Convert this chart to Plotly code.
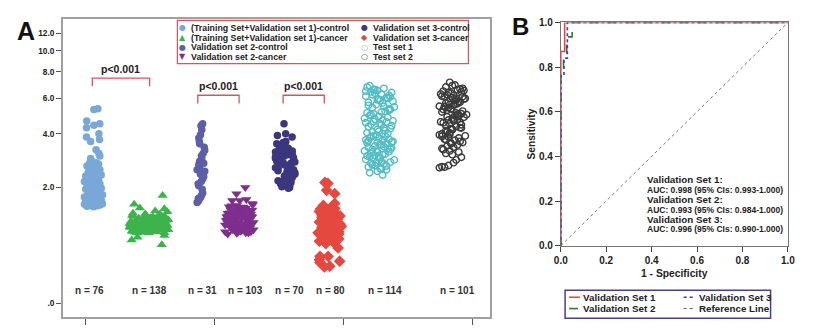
import numpy as np
import plotly.graph_objects as go

W, H = 829, 331

# ---------------- Panel A data ----------------
group_names = ["(Training Set+Validation set 1)-control", "(Training Set+Validation set 1)-cancer",
               "Validation set 2-control", "Validation set 2-cancer",
               "Validation set 3-control", "Validation set 3-cancer",
               "Test set 1", "Test set 2"]
group_n = [76, 138, 31, 103, 70, 80, 114, 101]
n_label_x = [1.030, 1.495, 1.906, 2.241, 2.577, 2.896, 3.315, 3.879]

tv1_control_y = [5.35, 5.30, 4.65, 4.30, 4.42, 4.50, 3.85, 3.65, 4.00, 3.73, 3.15, 3.05, 2.95, 3.30,
                 2.85, 2.80, 2.78, 2.75, 2.70, 2.68, 2.62, 2.60, 2.55, 2.52,
                 2.48, 2.45, 2.42, 2.38, 2.35, 2.30, 2.28, 2.25, 2.20, 2.18,
                 2.15, 2.10, 2.08, 2.05, 2.02, 2.00, 1.98, 1.95, 1.92, 1.90,
                 1.88, 1.85, 1.83, 1.80, 1.78, 1.76, 1.74, 1.72, 1.70, 1.69,
                 1.68, 1.66, 1.65, 1.64, 1.63, 1.62, 1.61, 1.60, 1.59, 1.58,
                 1.57, 1.56, 1.55, 1.54, 1.53, 1.52, 1.51, 1.50, 1.62, 1.70,
                 1.58, 1.66]
tv1_control_x = [1.094, 1.063, 1.008, 1.006, 1.063, 1.109, 1.006, 1.038, 1.102, 1.107, 1.102, 1.109, 1.038, 1.080,
                 1.05, 1.08, 1.03, 1.10, 1.06, 1.01, 1.09, 1.04, 1.11, 1.07,
                 1.02, 1.09, 1.05, 1.12, 1.00, 1.08, 1.03, 1.06, 1.10, 0.99,
                 1.04, 1.11, 1.07, 1.01, 1.09, 1.05, 1.12, 1.00, 1.03, 1.08,
                 1.06, 1.10, 1.02, 1.13, 1.04, 1.07, 0.99, 1.11, 1.05, 1.01,
                 1.09, 1.03, 1.12, 1.06, 1.00, 1.08, 1.04, 1.10, 1.02, 1.07,
                 1.13, 0.99, 1.05, 1.11, 1.03, 1.09, 1.01, 1.06, 1.12, 1.04,
                 1.08, 1.00]

tv1_cancer_y = [1.78, 1.56, 1.47, 1.45, 1.40, 0.82, 0.87, 0.90, 0.74, 1.38, 1.35,
                1.02, 1.15, 1.08, 1.22, 0.98, 1.12, 1.28, 1.05, 1.18, 0.96,
                1.10, 1.25, 1.01, 1.14, 1.07, 1.20, 0.99, 1.11, 1.30, 1.04,
                1.17, 0.97, 1.09, 1.23, 1.03, 1.13, 1.27, 1.06, 1.19, 0.95,
                1.12, 1.24, 1.00, 1.16, 1.08, 1.21, 0.98, 1.10, 1.32, 1.05,
                1.14, 0.96, 1.07, 1.26, 1.02, 1.18, 1.11, 1.29, 1.04, 1.20,
                0.99, 1.13, 1.09, 1.22, 1.01, 1.15, 1.06, 1.24, 0.97, 1.12,
                1.18, 1.03, 1.27, 1.08, 1.16, 0.95, 1.11, 1.21, 1.05, 1.14,
                1.00, 1.25, 1.09, 1.17, 1.02, 1.31, 1.07, 1.13, 0.98, 1.19,
                1.10, 1.23, 1.04, 1.15, 0.96, 1.12, 1.28, 1.06, 1.20, 1.01,
                1.14, 1.08, 1.26, 0.99, 1.17, 1.05, 1.22, 1.11, 0.97, 1.16,
                1.03, 1.19, 1.09, 1.24, 1.00, 1.13, 1.30, 1.07, 1.18, 0.95,
                1.12, 1.21, 1.04, 1.15, 1.08, 1.27, 0.98, 1.10, 1.20, 1.06,
                1.14, 1.02, 1.23, 1.09, 1.16, 1.33, 1.01]
tv1_cancer_x = [1.596, 1.375, 1.419, 1.609, 1.538, 1.356, 1.401, 1.609, 1.589, 1.632, 1.366,
                1.42, 1.55, 1.37, 1.61, 1.48, 1.35, 1.58, 1.45, 1.52, 1.40,
                1.63, 1.50, 1.38, 1.57, 1.44, 1.53, 1.36, 1.60, 1.47, 1.41,
                1.54, 1.39, 1.62, 1.46, 1.51, 1.34, 1.59, 1.43, 1.56, 1.49,
                1.37, 1.60, 1.45, 1.52, 1.40, 1.64, 1.48, 1.35, 1.57, 1.42,
                1.55, 1.38, 1.50, 1.61, 1.44, 1.53, 1.36, 1.58, 1.47, 1.62,
                1.41, 1.54, 1.39, 1.49, 1.63, 1.46, 1.34, 1.56, 1.43, 1.51,
                1.59, 1.37, 1.52, 1.45, 1.60, 1.40, 1.55, 1.48, 1.35, 1.57,
                1.44, 1.62, 1.38, 1.53, 1.47, 1.58, 1.41, 1.50, 1.36, 1.61,
                1.46, 1.54, 1.39, 1.59, 1.43, 1.52, 1.37, 1.56, 1.49, 1.64,
                1.40, 1.57, 1.45, 1.51, 1.35, 1.60, 1.48, 1.42, 1.55, 1.38,
                1.53, 1.46, 1.63, 1.41, 1.58, 1.50, 1.36, 1.54, 1.44, 1.61,
                1.39, 1.56, 1.47, 1.52, 1.42, 1.59, 1.37, 1.55, 1.49, 1.45,
                1.62, 1.43, 1.51, 1.38, 1.57, 1.46, 1.53]

v2_control_y = [4.50, 4.40, 3.95, 3.80, 3.55, 3.28, 3.15, 3.05, 2.85, 2.73, 2.78, 2.55, 2.50, 2.40,
                2.33, 2.25, 2.10, 2.05, 1.85, 1.78, 1.73, 1.65, 1.60,
                4.20, 3.65, 3.40, 2.95, 2.62, 2.18, 1.95, 1.70]
v2_control_x = [1.906, 1.893, 1.889, 1.876, 1.883, 1.922, 1.909, 1.896, 1.883, 1.876, 1.914, 1.863, 1.922, 1.889,
                1.914, 1.906, 1.871, 1.876, 1.906, 1.896, 1.889, 1.876, 1.863,
                1.899, 1.880, 1.918, 1.899, 1.883, 1.895, 1.902, 1.872]

v2_cancer_y = [2.00, 1.83, 1.65, 1.65, 1.68, 1.58, 1.45, 1.55,
               1.20, 1.05, 1.35, 0.98, 1.28, 1.12, 1.45, 1.02, 1.18, 1.38,
               1.08, 1.25, 0.95, 1.32, 1.15, 1.50, 1.00, 1.22, 1.10, 1.40,
               1.30, 0.97, 1.17, 1.42, 1.06, 1.26, 1.13, 1.48, 1.03, 1.21,
               1.36, 1.09, 0.94, 1.27, 1.16, 1.44, 1.01, 1.33, 1.11, 1.24,
               0.99, 1.39, 1.14, 1.52, 1.07, 1.29, 1.19, 0.96, 1.34, 1.04,
               1.23, 1.46, 1.10, 1.31, 1.00, 1.18, 1.41, 1.06, 1.27, 1.15,
               0.93, 1.37, 1.12, 1.25, 1.02, 1.47, 1.20, 1.08, 1.33, 0.97,
               1.16, 1.43, 1.05, 1.28, 1.13, 1.53, 1.01, 1.22, 1.38, 1.09,
               1.30, 0.95, 1.19, 1.44, 1.07, 1.26, 1.14, 1.35, 1.03, 1.21,
               1.11, 1.40, 0.98, 1.24, 1.49]
v2_cancer_x = [2.236, 2.168, 2.135, 2.193, 2.244, 2.289, 2.236, 2.295,
               2.15, 2.25, 2.10, 2.20, 2.28, 2.13, 2.18, 2.23, 2.09, 2.27,
               2.17, 2.12, 2.24, 2.19, 2.30, 2.11, 2.21, 2.16, 2.26, 2.14,
               2.22, 2.08, 2.18, 2.29, 2.13, 2.25, 2.10, 2.20, 2.27, 2.15,
               2.12, 2.23, 2.17, 2.09, 2.26, 2.19, 2.14, 2.28, 2.11, 2.21,
               2.24, 2.16, 2.29, 2.13, 2.20, 2.10, 2.25, 2.18, 2.12, 2.27,
               2.14, 2.22, 2.08, 2.19, 2.26, 2.11, 2.23, 2.17, 2.29, 2.15,
               2.10, 2.21, 2.16, 2.27, 2.13, 2.24, 2.09, 2.20, 2.14, 2.28,
               2.18, 2.12, 2.25, 2.15, 2.22, 2.17, 2.30, 2.11, 2.23, 2.19,
               2.13, 2.26, 2.09, 2.21, 2.16, 2.28, 2.12, 2.24, 2.18, 2.10,
               2.20, 2.15, 2.27, 2.14, 2.22]

v3_control_y = [4.50, 3.92, 4.00, 3.85,
                3.60, 2.20, 3.10, 2.55, 3.40, 2.05, 2.85, 3.25, 2.35, 3.00,
                2.70, 3.50, 2.15, 2.95, 3.30, 2.45, 3.15, 2.00, 2.80, 3.55,
                2.30, 3.05, 2.60, 3.35, 2.10, 2.90, 3.20, 2.50, 3.45, 2.25,
                2.75, 3.65, 2.40, 3.00, 2.65, 3.28, 1.98, 2.88, 3.12, 2.52,
                3.38, 2.18, 2.78, 3.48, 2.32, 2.98, 2.62, 3.22, 2.08, 2.92,
                3.58, 2.42, 3.08, 2.68, 2.02, 3.18, 2.58, 2.38, 2.82, 3.32,
                2.12, 2.72, 3.42, 2.48, 2.26, 3.02]
v3_control_x = [2.536, 2.485, 2.549, 2.599,
                2.53, 2.49, 2.58, 2.61, 2.51, 2.56, 2.48, 2.60, 2.54, 2.50,
                2.57, 2.52, 2.59, 2.47, 2.55, 2.62, 2.50, 2.58, 2.53, 2.48,
                2.60, 2.54, 2.49, 2.57, 2.51, 2.61, 2.47, 2.56, 2.52, 2.59,
                2.50, 2.55, 2.62, 2.48, 2.58, 2.53, 2.57, 2.51, 2.60, 2.49,
                2.56, 2.52, 2.59, 2.50, 2.54, 2.61, 2.47, 2.55, 2.58, 2.51,
                2.53, 2.60, 2.48, 2.57, 2.52, 2.49, 2.59, 2.55, 2.62, 2.50,
                2.58, 2.54, 2.51, 2.61, 2.56, 2.47]

v3_cancer_y = [2.15, 2.12, 1.92, 1.83, 1.58, 1.53,
               0.69, 0.56, 0.56, 0.47, 0.42, 0.49, 0.41, 0.51,
               1.20, 0.85, 1.45, 1.02, 1.30, 0.92, 1.10, 1.38, 0.80, 1.15,
               1.25, 0.97, 1.42, 1.05, 0.88, 1.33, 1.18, 0.95, 1.48, 1.08,
               0.83, 1.28, 1.12, 1.40, 0.90, 1.22, 1.00, 1.35, 0.78, 1.16,
               1.44, 1.04, 1.26, 0.93, 1.32, 1.13, 0.86, 1.37, 1.07, 1.24,
               0.98, 1.46, 1.19, 0.82, 1.29, 1.01, 1.41, 0.94, 1.14, 1.34,
               0.89, 1.23, 1.06, 1.39, 0.96, 1.17, 1.31, 0.84, 1.11, 1.27,
               1.43, 0.91, 1.21, 1.09, 0.76, 1.36]
v3_cancer_x = [2.853, 2.876, 2.866, 2.929, 2.929, 2.841,
               2.955, 2.815, 2.878, 2.815, 2.891, 2.967, 2.849, 2.810,
               2.86, 2.92, 2.82, 2.95, 2.88, 2.84, 2.97, 2.90, 2.81, 2.93,
               2.85, 2.96, 2.89, 2.83, 2.91, 2.87, 2.94, 2.80, 2.90, 2.86,
               2.93, 2.84, 2.97, 2.88, 2.82, 2.95, 2.89, 2.85, 2.92, 2.81,
               2.91, 2.87, 2.83, 2.96, 2.90, 2.84, 2.94, 2.86, 2.98, 2.88,
               2.82, 2.93, 2.89, 2.85, 2.97, 2.83, 2.91, 2.87, 2.95, 2.84,
               2.90, 2.86, 2.94, 2.81, 2.92, 2.88, 2.83, 2.96, 2.85, 2.91,
               2.87, 2.94, 2.84, 2.90, 2.86, 2.93]

test1_y = [6.90, 6.70, 6.55, 6.40, 6.80, 6.30, 6.60, 6.20, 6.45, 6.05,
           5.95, 6.15, 5.80, 6.35, 5.70, 5.55, 6.00, 5.40, 5.85, 5.30,
           5.60, 5.20, 5.10, 5.45, 5.00, 4.90, 5.25, 4.80, 4.70, 5.05,
           4.60, 4.95, 4.50, 4.40, 4.75, 4.30, 4.55, 4.20, 4.65, 4.10,
           4.45, 4.00, 4.35, 3.95, 4.25, 3.85, 4.15, 3.80, 4.05, 3.75,
           3.90, 3.70, 3.65, 3.82, 3.60, 3.55, 3.72, 3.50, 3.45, 3.62,
           3.40, 3.52, 3.35, 3.30, 3.42, 3.25, 3.20, 3.32, 3.15, 3.10,
           3.22, 3.05, 3.00, 3.12, 2.95, 2.90, 3.02, 2.85, 2.80, 2.92,
           2.75, 2.70, 2.82, 2.65, 2.60, 2.72, 2.55, 2.50, 2.45, 2.38,
           6.62, 6.10, 5.75, 5.15, 4.85, 4.48, 4.12, 3.88, 3.58, 3.28,
           2.98, 2.68, 6.25, 5.50,
           6.50, 5.90, 5.35, 4.62, 4.02, 3.68, 3.38, 3.08, 2.78, 2.58]
test1_x = [3.20, 3.31, 3.26, 3.37, 3.18, 3.29, 3.23, 3.35, 3.21, 3.33,
           3.27, 3.17, 3.38, 3.24, 3.30, 3.19, 3.34, 3.22, 3.28, 3.36,
           3.25, 3.32, 3.18, 3.39, 3.21, 3.27, 3.35, 3.16, 3.30, 3.23,
           3.33, 3.20, 3.28, 3.37, 3.24, 3.31, 3.17, 3.26, 3.38, 3.22,
           3.29, 3.34, 3.19, 3.25, 3.36, 3.21, 3.32, 3.27, 3.18, 3.35,
           3.23, 3.30, 3.38, 3.20, 3.26, 3.33, 3.17, 3.29, 3.24, 3.37,
           3.19, 3.28, 3.34, 3.22, 3.31, 3.16, 3.26, 3.36, 3.21, 3.30,
           3.35, 3.18, 3.27, 3.32, 3.23, 3.39, 3.20, 3.29, 3.25, 3.17,
           3.31, 3.24, 3.36, 3.19, 3.28, 3.22, 3.33, 3.26, 3.20, 3.30,
           3.24, 3.36, 3.19, 3.29, 3.34, 3.21, 3.27, 3.32, 3.18, 3.25,
           3.28, 3.33, 3.22, 3.31,
           3.17, 3.26, 3.35, 3.23, 3.30, 3.19, 3.37, 3.24, 3.21, 3.29]

test2_y = [7.15, 6.95, 6.80, 6.65, 6.90, 6.50, 6.70, 6.40, 6.60, 6.30,
           6.20, 6.45, 6.10, 6.35, 6.00, 6.25, 5.90, 6.15, 5.80, 6.05,
           5.70, 5.95, 5.60, 5.85, 5.50, 5.75, 5.40, 5.65, 5.30, 5.55,
           5.20, 5.45, 5.10, 5.35, 5.00, 5.25, 4.90, 5.15, 4.80, 5.05,
           4.70, 4.95, 4.60, 4.85, 4.50, 4.75, 4.40, 4.65, 4.30, 4.55,
           4.20, 4.45, 4.10, 4.35, 4.00, 4.25, 3.90, 4.15, 3.80, 4.05,
           3.70, 3.95, 3.60, 3.85, 3.50, 3.75, 3.40, 3.65, 3.30, 3.55,
           3.20, 3.45, 3.10, 3.35, 3.00, 3.25, 2.90, 3.15, 2.80, 2.70,
           2.62, 2.64, 2.66, 5.62, 4.88, 6.12, 4.22, 5.02, 3.72, 6.55,
           5.33, 4.58, 3.98,
           6.02, 5.48, 4.72, 4.28, 5.78, 4.98, 3.88, 3.58]
test2_x = [3.82, 3.86, 3.79, 3.90, 3.84, 3.77, 3.92, 3.81, 3.88, 3.75,
           3.85, 3.91, 3.78, 3.83, 3.94, 3.80, 3.87, 3.76, 3.89, 3.84,
           3.79, 3.93, 3.82, 3.86, 3.74, 3.90, 3.81, 3.88, 3.77, 3.85,
           3.92, 3.78, 3.87, 3.83, 3.95, 3.80, 3.89, 3.76, 3.84, 3.91,
           3.81, 3.86, 3.75, 3.93, 3.82, 3.88, 3.79, 3.85, 3.90, 3.77,
           3.84, 3.91, 3.80, 3.87, 3.76, 3.83, 3.94, 3.79, 3.89, 3.82,
           3.86, 3.74, 3.92, 3.81, 3.88, 3.78, 3.85, 3.90, 3.77, 3.83,
           3.89, 3.80, 3.84, 3.76, 3.91, 3.82, 3.87, 3.79, 3.85, 3.81,
           3.74, 3.78, 3.76, 3.86, 3.80, 3.92, 3.84, 3.88, 3.79, 3.93,
           3.83, 3.90, 3.82,
           3.87, 3.78, 3.85, 3.91, 3.81, 3.89, 3.76, 3.83]

group_x = [tv1_control_x, tv1_cancer_x, v2_control_x, v2_cancer_x, v3_control_x, v3_cancer_x, test1_x, test2_x]
group_y = [tv1_control_y, tv1_cancer_y, v2_control_y, v2_cancer_y, v3_control_y, v3_cancer_y, test1_y, test2_y]

y_tick_values = [0, 2, 4, 6, 8, 10, 12]
y_tick_text = [".0", "2.0", "4.0", "6.0", "8.0", "10.0", "12.0"]
x_tick_values = [1, 2, 3, 4]

# significance brackets: (x_left, x_right, top value, leg value)
bracket_x0 = [1.051, 1.868, 2.529]
bracket_x1 = [1.495, 2.188, 2.848]
bracket_top = [7.48, 6.21, 6.21]
bracket_leg = [6.86, 5.66, 5.66]
p_text = ["p<0.001", "p<0.001", "p<0.001"]

# ---------------- Panel B data ----------------
roc_names = ["Validation Set 1", "Validation Set 2", "Validation Set 3", "Reference Line"]
roc1_fpr = [0, 0, 0.017, 0.017, 1]
roc1_tpr = [0, 0.87, 0.87, 1, 1]
roc2_fpr = [0, 0, 0.012, 0.012, 0.026, 0.026, 0.05, 0.05, 1]
roc2_tpr = [0, 0.77, 0.77, 0.84, 0.84, 0.935, 0.935, 1, 1]
roc3_fpr = [0, 0, 0.014, 0.014, 0.029, 0.029, 1]
roc3_tpr = [0, 0.76, 0.76, 0.84, 0.84, 1, 1]
ref_fpr = [0, 1]
ref_tpr = [0, 1]
auc_lines = [("Validation Set 1:", "AUC: 0.998 (95% CIs: 0.993-1.000)"),
             ("Validation Set 2:", "AUC: 0.993 (95% CIs: 0.984-1.000)"),
             ("Validation Set 3:", "AUC: 0.996 (95% CIs: 0.990-1.000)")]
roc_ticks = [0, 0.2, 0.4, 0.6, 0.8, 1.0]
roc_tick_text = ["0.0", "0.2", "0.4", "0.6", "0.8", "1.0"]

# ---------------- styles ----------------
FONT = "Liberation Sans, Arial, sans-serif"
symbols = ["circle", "triangle-up", "circle", "triangle-down", "circle", "diamond", "circle-open", "circle-open"]
colors = ["#79a8d8", "#3db44b", "#5c5fa8", "#7e2e8c", "#3b367e", "#e4483f", "#52bcc5", "#3a3a3a"]
sizes = [7.5, 9, 7.5, 9, 7.5, 9, 6.5, 6.5]
glyphs = ["●", "▲", "●", "▼", "●", "◆", "○", "○"]
roc_colors = ["#e8463c", "#2f7a3a", "#3a3db8", "#555555"]
roc_dash = ["solid", "dash", "dot", "dot"]
roc_width = [1.6, 1.6, 1.6, 0.8]


def px(x):
    return x / W


def py(y):
    return 1 - y / H


fig = go.Figure()

for i in range(8):
    sym = symbols[i]
    marker = dict(symbol=sym, size=sizes[i], color=colors[i])
    if sym.endswith("open"):
        marker["line"] = dict(color=colors[i], width=1.4)
    else:
        marker["line"] = dict(width=0)
    fig.add_trace(go.Scatter(x=group_x[i], y=np.log1p(np.array(group_y[i])), mode="markers",
                             marker=marker, name=group_names[i], xaxis="x", yaxis="y",
                             showlegend=False, hoverinfo="skip"))

roc_sets = [(roc1_fpr, roc1_tpr), (roc2_fpr, roc2_tpr), (roc3_fpr, roc3_tpr), (ref_fpr, ref_tpr)]
for k in [3, 0, 1, 2]:
    fx, ty = roc_sets[k]
    fig.add_trace(go.Scatter(x=fx, y=ty, mode="lines", name=roc_names[k], xaxis="x2", yaxis="y2",
                             line=dict(color=roc_colors[k], dash=roc_dash[k], width=roc_width[k]),
                             showlegend=False, hoverinfo="skip"))

tick_font_a = dict(family=FONT, size=8.3, color="#222", weight="bold")
tick_font_b = dict(family=FONT, size=10, color="#222", weight="bold")

fig.update_layout(
    width=W, height=H, margin=dict(l=0, r=0, t=0, b=0),
    plot_bgcolor="white", paper_bgcolor="white", showlegend=False,
    font=dict(family=FONT, color="#222"),
    xaxis=dict(domain=[px(56.7), px(491.7)], range=[0.822, 4.135], tickvals=x_tick_values,
               ticktext=[""] * 4, ticks="outside", ticklen=6, tickcolor="#555", tickwidth=1,
               showline=True, linecolor="#a0a0a0", linewidth=1.5, mirror=True,
               showgrid=False, zeroline=False, anchor="y"),
    yaxis=dict(domain=[py(322.7), py(14)], range=[-0.132, 2.705],
               tickvals=list(np.log1p(np.array(y_tick_values, dtype=float))), ticktext=y_tick_text,
               ticks="outside", ticklen=5, tickcolor="#555", tickwidth=1, tickfont=tick_font_a,
               showline=True, linecolor="#a0a0a0", linewidth=1.5, mirror=True,
               showgrid=False, zeroline=False, anchor="x"),
    xaxis2=dict(domain=[px(563.3), px(794.3)], range=[0, 1], tickvals=roc_ticks, ticktext=roc_tick_text,
                ticks="outside", ticklen=5, tickcolor="#444", tickfont=tick_font_b,
                showline=True, linecolor="#777", linewidth=1, mirror=True, layer="below traces",
                showgrid=False, zeroline=False, anchor="y2"),
    yaxis2=dict(domain=[py(249), py(18)], range=[0, 1], tickvals=roc_ticks, ticktext=roc_tick_text,
                ticks="outside", ticklen=5, tickcolor="#444", tickfont=tick_font_b,
                showline=True, linecolor="#777", linewidth=1, mirror=True, layer="below traces",
                showgrid=False, zeroline=False, anchor="x2"),
)

ann = []
shapes = []

# panel letters
ann.append(dict(x=px(19.5), y=py(27), xref="paper", yref="paper", text="A", showarrow=False,
                xanchor="center", yanchor="middle",
                font=dict(family=FONT, size=25, color="#111", weight="bold")))
ann.append(dict(x=px(522.5), y=py(22), xref="paper", yref="paper", text="B", showarrow=False,
                xanchor="center", yanchor="middle",
                font=dict(family=FONT, size=24, color="#111", weight="bold")))

# panel B axis titles
ann.append(dict(x=px(679), y=py(277.3), xref="paper", yref="paper", text="1 - Specificity", showarrow=False,
                xanchor="center", yanchor="middle",
                font=dict(family=FONT, size=10.3, color="#222", weight="bold")))
ann.append(dict(x=px(533.5), y=py(133.5), xref="paper", yref="paper", text="Sensitivity", showarrow=False,
                xanchor="center", yanchor="middle", textangle=-90,
                font=dict(family=FONT, size=10.2, color="#222", weight="bold")))

# n labels
for i in range(8):
    ann.append(dict(x=n_label_x[i], y=py(295.7), xref="x", yref="paper", text="n = %d" % group_n[i],
                    showarrow=False, xanchor="center", yanchor="middle",
                    font=dict(family=FONT, size=10, color="#333", weight="bold")))

# brackets
for j in range(3):
    t = np.log1p(bracket_top[j])
    l = np.log1p(bracket_leg[j])
    shapes.append(dict(type="path", xref="x", yref="y",
                       path="M %f,%f L %f,%f L %f,%f L %f,%f" % (bracket_x0[j], l, bracket_x0[j], t,
                                                                 bracket_x1[j], t, bracket_x1[j], l),
                       line=dict(color="#d9545c", width=1.3)))
    ann.append(dict(x=(bracket_x0[j] + bracket_x1[j]) / 2, y=t, xref="x", yref="y",
                    xanchor="center", yanchor="bottom",
                    yshift=1, text=p_text[j], showarrow=False,
                    font=dict(family=FONT, size=10.5, color="#222", weight="bold")))

# panel A legend
shapes.append(dict(type="rect", xref="paper", yref="paper", x0=px(173.3), x1=px(469.3), y0=py(60.7), y1=py(16),
                   line=dict(color="#d9545c", width=1.2), fillcolor="rgba(0,0,0,0)"))
leg_rows = [23.7, 33.7, 43.7, 53.7]
for i in range(8):
    col = 0 if i < 4 else 1
    row = i % 4
    gx = [179, 364][col]
    tx = [185.5, 370.7][col]
    ann.append(dict(x=px(gx), y=py(leg_rows[row]), xref="paper", yref="paper", text=glyphs[i],
                    showarrow=False, xanchor="center", yanchor="middle",
                    font=dict(family="DejaVu Sans", size=8, color=colors[i])))
    ann.append(dict(x=px(tx), y=py(leg_rows[row]), xref="paper", yref="paper", text=group_names[i],
                    showarrow=False, xanchor="left", yanchor="middle",
                    font=dict(family=FONT, size=8.8, color="#222", weight="bold")))

# AUC text
auc_y = [180.7, 191, 201.7, 212, 222, 232]
for j, (h, a) in enumerate(auc_lines):
    ann.append(dict(x=px(648.5), y=py(auc_y[2 * j]), xref="paper", yref="paper", text=h, showarrow=False,
                    xanchor="left", yanchor="middle", font=dict(family=FONT, size=9.8, color="#222", weight="bold")))
    ann.append(dict(x=px(648.5), y=py(auc_y[2 * j + 1]), xref="paper", yref="paper", text=a, showarrow=False,
                    xanchor="left", yanchor="middle", font=dict(family=FONT, size=8.5, color="#222", weight="bold")))

# panel B legend
shapes.append(dict(type="rect", xref="paper", yref="paper", x0=px(567.7), x1=px(776.7), y0=py(324), y1=py(295),
                   line=dict(color="#4b3f8c", width=1.5), fillcolor="rgba(0,0,0,0)"))
leg_b_pos = [(0, 302.3), (0, 314), (1, 302.3), (1, 314)]
for k in range(4):
    col, yy = leg_b_pos[k]
    sx0, sx1 = [(571.7, 582.7), (688.3, 700)][col]
    tx = [584, 702][col]
    shapes.append(dict(type="line", xref="paper", yref="paper", x0=px(sx0), x1=px(sx1), y0=py(yy), y1=py(yy),
                       line=dict(color=roc_colors[k], dash=roc_dash[k], width=1.6 if k < 3 else 1)))
    ann.append(dict(x=px(tx), y=py(yy), xref="paper", yref="paper", text=roc_names[k], showarrow=False,
                    xanchor="left", yanchor="middle", font=dict(family=FONT, size=9.8, color="#222", weight="bold")))

fig.update_layout(annotations=ann, shapes=shapes)
fig.write_html("out.html")
